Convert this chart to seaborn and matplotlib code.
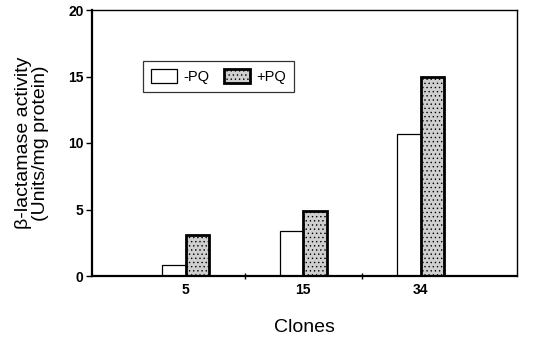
import numpy as np
import pandas as pd
import matplotlib
matplotlib.use("Agg")
import matplotlib.pyplot as plt
import seaborn as sns
from matplotlib.patches import Patch

# --- data ---
clones = ["5", "15", "34"]
minus_pq = [0.8, 3.4, 10.7]
plus_pq = [3.1, 4.9, 15.0]
conditions = ["-PQ", "+PQ"]

df = pd.DataFrame({
    "Clone": clones * 2,
    "Condition": ["-PQ"] * len(clones) + ["+PQ"] * len(clones),
    "Value": minus_pq + plus_pq,
})

sns.set_theme(style="white")
plt.rcParams["font.family"] = ["Liberation Sans", "DejaVu Sans"]
plt.rcParams["text.color"] = "black"
plt.rcParams["axes.labelcolor"] = "black"
plt.rcParams["xtick.color"] = "black"
plt.rcParams["ytick.color"] = "black"
plt.rcParams["hatch.color"] = "#9a9a9a"
plt.rcParams["hatch.linewidth"] = 0.5

gray = "#cfcfcf"

fig = plt.figure(figsize=(5.39, 3.38), dpi=100)
ax = fig.add_axes([92 / 539, 1 - 276 / 338, 425 / 539, 266 / 338])

sns.barplot(data=df, x="Clone", y="Value", hue="Condition", order=clones,
            hue_order=conditions, palette=["white", gray], width=0.4,
            ax=ax, legend=False, saturation=1)

# edges: thin for -PQ, heavy for +PQ
for bar, lw in zip(ax.patches, [0.9] * 3 + [2.0] * 3):
    bar.set_edgecolor("black")
    bar.set_linewidth(lw)
    if lw > 1:
        bar.set_hatch("....")

ax.set_xlim(-0.8, 2.82)
ax.set_ylim(0, 20)
ax.set_yticks([0, 5, 10, 15, 20])
ax.set_xticks([0, 1, 2])
ax.set_xticks([0.5, 1.5], minor=True)
ax.tick_params(axis="x", which="major", length=0, labelsize=10, pad=5)
ax.tick_params(axis="x", which="minor", direction="inout", length=5,
               width=1, color="black", bottom=True)
ax.tick_params(axis="y", direction="out", length=4, width=1, color="black",
               left=True, labelsize=10, pad=2)
for lab in ax.get_xticklabels() + ax.get_yticklabels():
    lab.set_fontweight("bold")

for sp in ax.spines.values():
    sp.set_color("black")
    sp.set_linewidth(1.0)
ax.spines["bottom"].set_linewidth(1.6)
ax.spines["left"].set_linewidth(1.6)

ax.set_xlabel("Clones", fontsize=14, labelpad=16)
ax.set_ylabel("\u03b2-lactamase activity\n(Units/mg protein)", fontsize=14,
              labelpad=14, linespacing=0.95)

handles = [Patch(facecolor="white", edgecolor="black", linewidth=0.9, label="-PQ"),
           Patch(facecolor=gray, edgecolor="black", linewidth=2.0,
                 hatch="....", label="+PQ")]
leg = ax.legend(handles=handles, loc="upper left", ncol=2,
                bbox_to_anchor=(0.12, 0.808), borderaxespad=0, frameon=True,
                fancybox=False, edgecolor="black", fontsize=10.5,
                handlelength=1.8, handleheight=1.1, columnspacing=1.0,
                handletextpad=0.4, borderpad=0.55)
leg.get_frame().set_linewidth(0.9)

fig.savefig("out.png", dpi=100)
